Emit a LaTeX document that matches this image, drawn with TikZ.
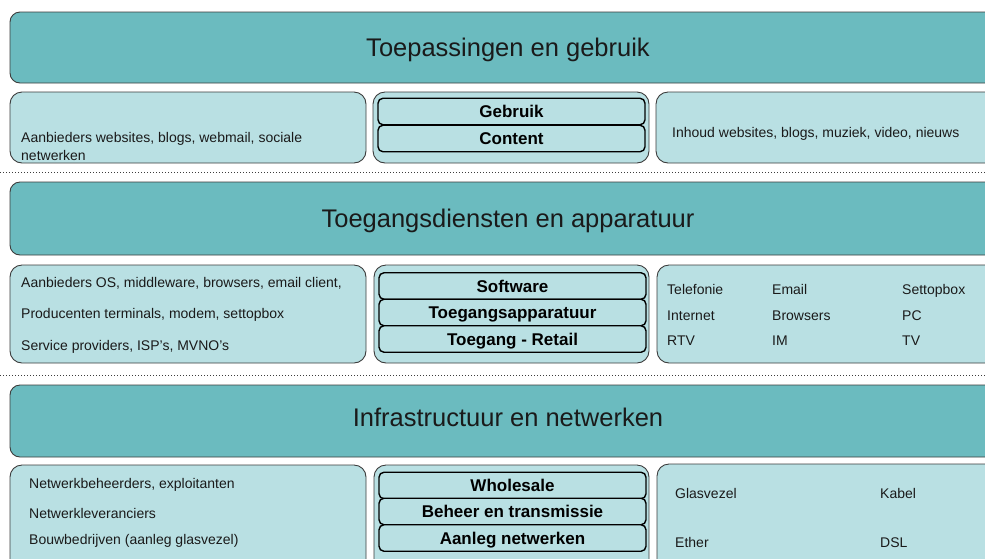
\documentclass[tikz,border=0pt]{standalone}
\usepackage{fontspec}
\setmainfont{Liberation Sans}
\definecolor{bannerc}{HTML}{6BBBBF}
\definecolor{panelc}{HTML}{B9E0E3}
\definecolor{linec}{HTML}{3C3C3C}
\definecolor{textc}{HTML}{1A1A1A}
\begin{document}
\begin{tikzpicture}[x=1pt,y=-1pt,
  banner/.style={draw=linec, fill=bannerc, rounded corners=10pt, line width=0.9pt},
  panel/.style={draw=linec, fill=panelc, rounded corners=12pt, line width=0.9pt},
  layerbox/.style={draw=black, fill=panelc, rounded corners=5pt, line width=1.4pt,
    minimum width=267pt, minimum height=26.5pt, inner sep=0pt,
    text height=12.2pt, text depth=0pt, font=\fontsize{17}{19}\selectfont\bfseries},
  txt/.style={anchor=west, inner sep=0pt, text height=10pt, text depth=0pt,
    font=\fontsize{14}{16}\selectfont, text=textc},
  titletxt/.style={inner sep=0pt, text height=18.3pt, text depth=0pt,
    font=\fontsize{25.5}{30}\selectfont, text=textc},
  sepline/.style={draw=linec, line width=1pt, dash pattern=on 1pt off 2pt}]
\useasboundingbox (0,0) rectangle (985,558);
\clip (0,0) rectangle (985,558);

% ---------- banners ----------
\draw[banner] (10,12) rectangle (1010,83);
\draw[banner] (10,182) rectangle (1010,255);
\draw[banner] (10,385) rectangle (1010,457);
\node[titletxt] (t1) at (508,47.5) {Toepassingen en gebruik};
\node[titletxt] (t2) at (508,218.5) {Toegangsdiensten en apparatuur};
\node[titletxt] (t3) at (508,417) {Infrastructuur en netwerken};

% ---------- row 1 ----------
\draw[panel] (10,92) rectangle (366,163);
\draw[panel] (373,92) rectangle (649,163);
\draw[panel] (656,92) rectangle (1010,163);
\node[txt] (a1) at (21,137) {Aanbieders websites, blogs, webmail, sociale};
\node[txt] (a2) at (21,155) {netwerken};
\node[layerbox] (gebruik) at (511.5,111.5) {Gebruik};
\node[layerbox] (content) at (511.5,138.5) {Content};
\node[txt] (inh) at (672,132) {Inhoud websites, blogs, muziek, video, nieuws};

\draw[sepline] (0,172) -- (985,172);

% ---------- row 2 ----------
\draw[panel] (10,265) rectangle (366,363);
\draw[panel] (374,265) rectangle (649,363);
\draw[panel] (657,265) rectangle (1010,363);
\node[txt] (b1) at (21,282) {Aanbieders OS, middleware, browsers, email client,};
\node[txt] (b2) at (21,313) {Producenten terminals, modem, settopbox};
\node[txt] (b3) at (21,345) {Service providers, ISP's, MVNO's};
\node[layerbox] (software) at (512.5,286) {Software};
\node[layerbox] (apparatuur) at (512.5,312.5) {Toegangsapparatuur};
\node[layerbox] (retail) at (512.5,339) {Toegang - Retail};
\node[txt] (c11) at (667,289) {Telefonie};
\node[txt] (c12) at (772,289) {Email};
\node[txt] (c13) at (902,289) {Settopbox};
\node[txt] (c21) at (667,315) {Internet};
\node[txt] (c22) at (772,315) {Browsers};
\node[txt] (c23) at (902,315) {PC};
\node[txt] (c31) at (667,340) {RTV};
\node[txt] (c32) at (772,340) {IM};
\node[txt] (c33) at (902,340) {TV};

\draw[sepline] (0,375) -- (985,375);

% ---------- row 3 ----------
\draw[panel] (10,465) rectangle (366,580);
\draw[panel] (374,465) rectangle (649,580);
\draw[panel] (657,464) rectangle (1010,580);
\node[txt] (d1) at (29,483) {Netwerkbeheerders, exploitanten};
\node[txt] (d2) at (29,513) {Netwerkleveranciers};
\node[txt] (d3) at (29,539) {Bouwbedrijven (aanleg glasvezel)};
\node[layerbox] (wholesale) at (512.5,485.5) {Wholesale};
\node[layerbox] (beheer) at (512.5,511.5) {Beheer en transmissie};
\node[layerbox] (aanleg) at (512.5,538) {Aanleg netwerken};
\node[txt] (e11) at (675,493) {Glasvezel};
\node[txt] (e12) at (880,493) {Kabel};
\node[txt] (e21) at (675,542) {Ether};
\node[txt] (e22) at (880,542) {DSL};
\end{tikzpicture}
\end{document}
